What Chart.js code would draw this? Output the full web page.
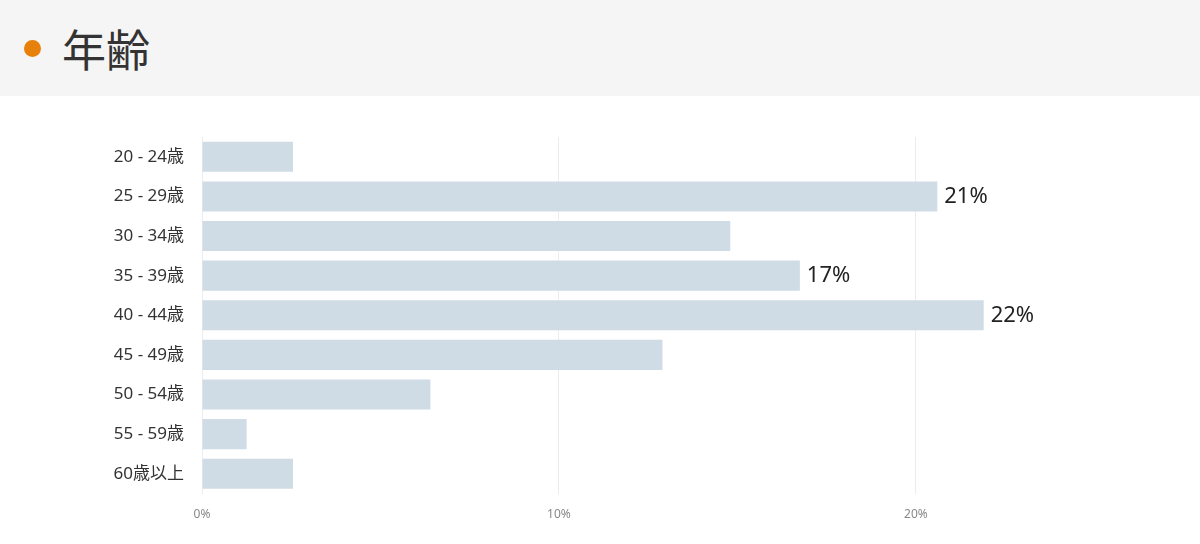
<!DOCTYPE html>
<html><head><meta charset="utf-8">
<script src="https://cdn.jsdelivr.net/npm/chart.js@4"></script>
<style>
body{margin:0;width:1200px;height:544px;background:#fff;font-family:"Noto Sans","Noto Sans CJK JP",sans-serif;overflow:hidden}
#hd{height:96px;background:#f5f5f5;position:relative}
#dot{position:absolute;left:24px;top:40px;width:17px;height:17px;border-radius:50%;background:#e8800c}
#tt{position:absolute;left:62px;top:18px;font-size:44px;color:#333;line-height:60px;font-family:"Noto Sans CJK JP",sans-serif}
#wrap{position:absolute;top:96px;left:0;width:1200px;height:448px}
</style></head><body>
<div id="hd"><div id="dot"></div><div id="tt">年齢</div></div>
<div id="wrap"><canvas id="c"></canvas></div>
<script>
const categories=["20 - 24歳","25 - 29歳","30 - 34歳","35 - 39歳","40 - 44歳","45 - 49歳","50 - 54歳","55 - 59歳","60歳以上"];
const values=[2.55,20.6,14.8,16.75,21.9,12.9,6.4,1.25,2.55];
const labels=["","21%","","17%","22%","","","",""];
const FF='"Noto Sans","Noto Sans CJK JP",sans-serif';
const valueLabels={id:"vl",afterDatasetsDraw(ch){const ctx=ch.ctx;const m=ch.getDatasetMeta(0);ctx.save();ctx.font='22px '+FF;ctx.fillStyle="#222";ctx.textBaseline="middle";m.data.forEach((b,i)=>{if(labels[i])ctx.fillText(labels[i],b.x+7,b.y);});ctx.restore();}};
new Chart(document.getElementById("c"),{type:"bar",
data:{labels:categories,datasets:[{data:values,backgroundColor:"#cfdce6",barPercentage:0.76,categoryPercentage:1}]},
options:{indexAxis:"y",responsive:true,maintainAspectRatio:false,animation:false,
layout:{padding:{top:41,right:20,bottom:8,left:0}},
plugins:{legend:{display:false},tooltip:{enabled:false}},
scales:{x:{min:0,max:27.4,grid:{color:c=>c.tick&&c.tick.value%10===0?"#ececec":"transparent",drawTicks:false},border:{display:false},
ticks:{stepSize:10,padding:14,color:"#888",font:{size:12,family:FF},callback:v=>v%10===0?v+"%":""}},
y:{grid:{display:false},border:{display:false},afterFit:s=>{s.width=202;},
ticks:{color:"#333",padding:10,font:{size:17,family:FF}}}}},
plugins:[valueLabels]});
</script></body></html>
